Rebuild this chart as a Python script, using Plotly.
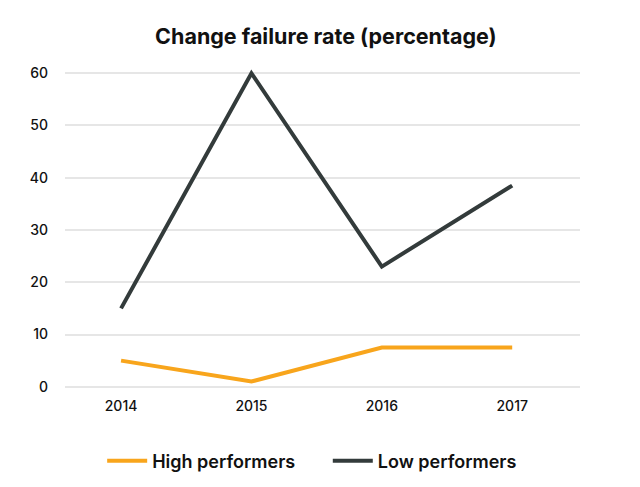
import plotly.graph_objects as go

years = ["2014", "2015", "2016", "2017"]
high_performers = [5, 1, 7.5, 7.5]
low_performers = [15, 60, 23, 38.5]
y_ticks = [0, 10, 20, 30, 40, 50, 60]

fig = go.Figure()
fig.add_trace(go.Scatter(x=years, y=high_performers, mode="lines", name="High performers",
                         line=dict(color="#F8A51C", width=4), legend="legend"))
fig.add_trace(go.Scatter(x=years, y=low_performers, mode="lines", name="Low performers",
                         line=dict(color="#333B3B", width=4), legend="legend2"))

leg_common = dict(orientation="h", xref="container", yref="container", yanchor="middle",
                  xanchor="left", font=dict(size=18, color="#111111", weight=600),
                  itemwidth=40, bgcolor="rgba(0,0,0,0)")

fig.update_layout(
    width=632, height=479,
    paper_bgcolor="white", plot_bgcolor="white",
    margin=dict(l=57, r=60, t=60, b=95, autoexpand=False),
    title=dict(text="<b>Change failure rate (percentage)</b>", x=0.503, xanchor="center",
               y=0.94, yanchor="middle",
               font=dict(family="Inter, Noto Sans, sans-serif", size=21.5, color="#111111")),
    font=dict(family="Inter, Noto Sans, sans-serif", size=14, color="#111111"),
    xaxis=dict(type="category", range=[-0.43, 3.52], showgrid=False, zeroline=False,
               showline=False, ticks="", ticklabelstandoff=4,
               tickfont=dict(size=14, weight=500)),
    yaxis=dict(range=[-1, 61], tickvals=y_ticks, showgrid=True, gridcolor="#E6E6E6",
               gridwidth=1.5, zeroline=False, showline=False, ticks="", ticklabelstandoff=16,
               tickfont=dict(size=14, weight=500)),
    legend=dict(x=0.149, y=0.054, **leg_common),
    legend2=dict(x=0.506, y=0.054, **leg_common),
    showlegend=True,
)

fig.write_html("out.html")
